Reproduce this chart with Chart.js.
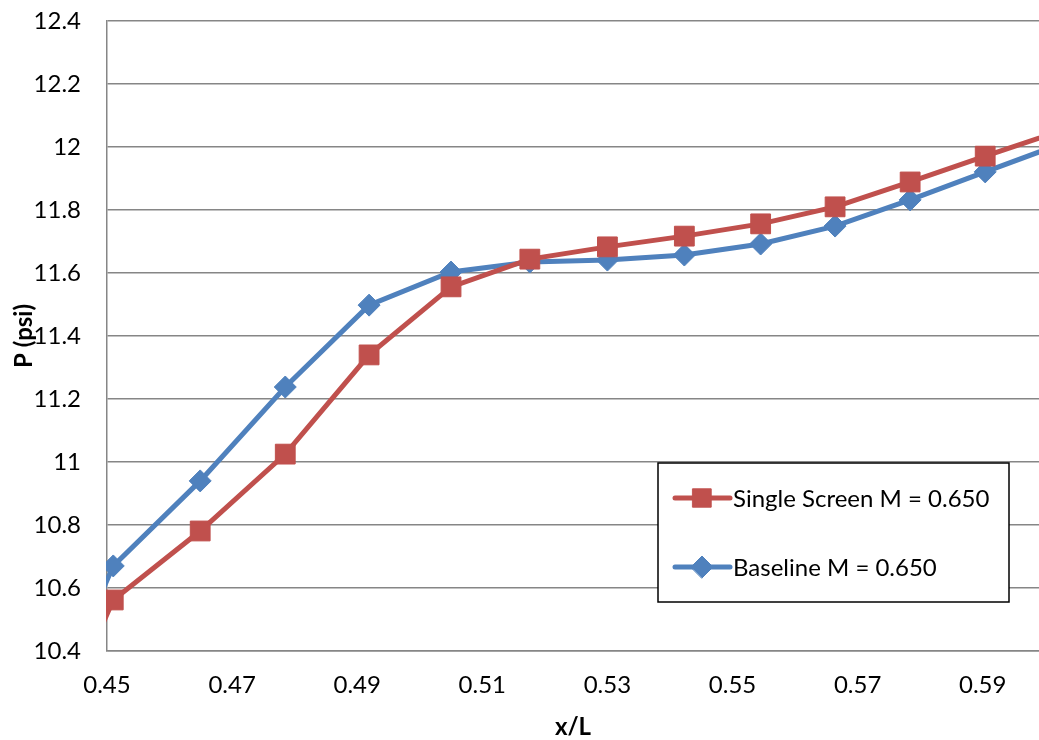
<!DOCTYPE html>
<html>
<head>
<meta charset="utf-8">
<script src="https://cdn.jsdelivr.net/npm/chart.js@4/dist/chart.umd.min.js"></script>
<style>
  html, body { margin: 0; padding: 0; background: #fff; overflow: hidden; }
  #wrap { width: 1039px; height: 740px; }
</style>
</head>
<body>
<div id="wrap"><canvas id="pressureChart" width="1039" height="740"></canvas></div>
<script>
  // x/L stations (first and last lie just outside the visible window)
  const xOverL = [0.4375, 0.4510, 0.4649, 0.4785, 0.4919, 0.5050, 0.5176, 0.5300, 0.5423, 0.5545, 0.5664, 0.5784, 0.5904, 0.6025];

  const singleScreen = [9.95, 10.562, 10.781, 11.025, 11.340, 11.556, 11.644, 11.683, 11.717, 11.756, 11.810, 11.889, 11.971, 12.051];
  const baseline = [10.06, 10.670, 10.940, 11.238, 11.498, 11.603, 11.635, 11.641, 11.657, 11.692, 11.749, 11.832, 11.921, 12.010];

  const xTicks = [0.45, 0.47, 0.49, 0.51, 0.53, 0.55, 0.57, 0.59];
  const yTicks = [10.4, 10.6, 10.8, 11, 11.2, 11.4, 11.6, 11.8, 12, 12.2, 12.4];

  const RED = '#C0504D';
  const BLUE = '#4F81BD';
  const GRID = '#868686';
  const FONT = 'Lato, "Open Sans", sans-serif';
  const CLEAR = 'rgba(0,0,0,0)';

  const toPoints = (ys) => ys.map((y, i) => ({ x: xOverL[i], y: y }));

  const series = [
    { label: 'Single Screen M = 0.650', data: singleScreen, color: RED, style: 'rect', radius: 14 },
    { label: 'Baseline M = 0.650', data: baseline, color: BLUE, style: 'rectRot', radius: 11 },
  ];

  // boxed legend sitting inside the plot, bottom right
  const boxLegend = {
    id: 'boxLegend',
    afterDatasetsDraw(chart) {
      const ctx = chart.ctx;
      const box = { x: 658, y: 463, w: 351, h: 139 };
      ctx.save();
      ctx.fillStyle = '#fff';
      ctx.fillRect(box.x, box.y, box.w, box.h);
      ctx.strokeStyle = '#000';
      ctx.lineWidth = 1.5;
      ctx.strokeRect(box.x, box.y, box.w, box.h);
      const rows = [498, 567];
      series.forEach((s, i) => {
        const y = rows[i];
        ctx.strokeStyle = s.color;
        ctx.lineWidth = 5;
        ctx.lineCap = 'round';
        ctx.beginPath();
        ctx.moveTo(675, y);
        ctx.lineTo(730, y);
        ctx.stroke();
        ctx.fillStyle = s.color;
        ctx.strokeStyle = s.color;
        ctx.lineWidth = 1;
        Chart.helpers.drawPoint(ctx, { pointStyle: s.style, radius: s.style === 'rect' ? 13 : 11, rotation: 0, borderWidth: 1 }, 702, y);
        ctx.fillStyle = '#000';
        ctx.font = '24px ' + FONT;
        ctx.textAlign = 'left';
        ctx.textBaseline = 'middle';
        ctx.fillText(s.label, 733, y + 1);
      });
      ctx.restore();
    },
  };

  new Chart(document.getElementById('pressureChart'), {
    type: 'line',
    data: {
      datasets: series.map((s) => ({
        label: s.label,
        data: toPoints(s.data),
        borderColor: s.color,
        backgroundColor: s.color,
        borderWidth: 5,
        pointStyle: s.style,
        pointRadius: s.radius,
        pointBorderWidth: 1,
        pointBorderColor: s.color,
        pointBackgroundColor: s.color,
        tension: 0,
        clip: { left: 1, top: 0, right: 0, bottom: 0 },
      })),
    },
    options: {
      responsive: false,
      animation: false,
      events: [],
      layout: { autoPadding: false, padding: { top: 21, right: 0, bottom: 0, left: 0 } },
      plugins: {
        legend: { display: false },
        tooltip: { enabled: false },
      },
      scales: {
        x: {
          type: 'linear',
          min: 0.45,
          max: 0.599,
          afterBuildTicks: (scale) => { scale.ticks = xTicks.map((v) => ({ value: v })); },
          afterFit: (scale) => {
            scale.height = 89;
            scale.paddingLeft = 0;
            scale.paddingRight = 0;
          },
          grid: { display: true, drawOnChartArea: false, drawTicks: true, tickLength: 20, tickColor: CLEAR, color: CLEAR },
          border: { display: true, color: GRID, width: 1.5 },
          ticks: {
            padding: 0,
            color: '#000',
            font: { family: FONT, size: 24 },
            callback: (v) => String(v),
          },
          title: {
            display: true,
            text: 'x/L',
            color: '#000',
            font: { family: FONT, size: 24, weight: 'bold' },
            padding: { top: 0, bottom: -2 },
          },
        },
        y: {
          type: 'linear',
          min: 10.4,
          max: 12.4,
          afterBuildTicks: (scale) => { scale.ticks = yTicks.map((v) => ({ value: v })); },
          afterFit: (scale) => {
            scale.width = 107;
            scale.paddingTop = 0;
            scale.paddingBottom = 0;
          },
          grid: { color: GRID, lineWidth: 1.5, drawTicks: true, tickLength: 26, tickColor: CLEAR },
          border: { display: true, color: GRID, width: 1.5 },
          ticks: {
            padding: 0,
            color: '#000',
            font: { family: FONT, size: 24 },
            callback: (v) => String(v),
          },
          title: {
            display: true,
            text: 'P (psi)',
            color: '#000',
            font: { family: FONT, size: 24, weight: 'bold' },
            padding: { top: 10, bottom: 0 },
          },
        },
      },
    },
    plugins: [boxLegend],
  });
</script>
</body>
</html>
